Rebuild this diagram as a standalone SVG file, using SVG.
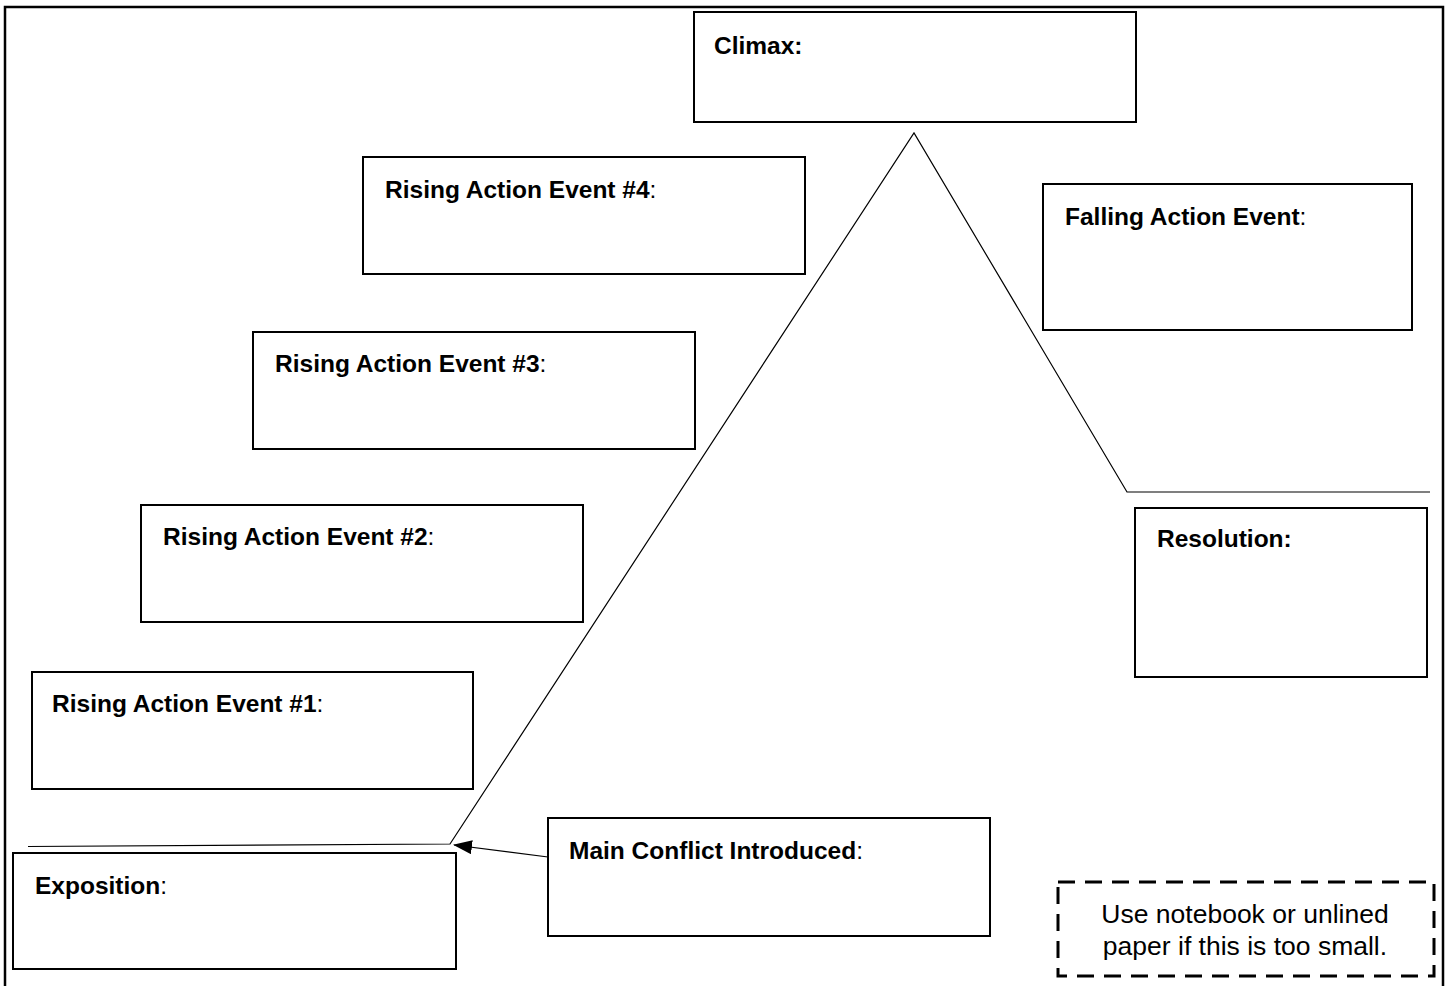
<svg xmlns="http://www.w3.org/2000/svg" width="1450" height="986" viewBox="0 0 1450 986">
<style>
.box{fill:#fff;stroke:#000;stroke-width:2}
.lbl{font-family:"Liberation Sans",Arial,sans-serif;font-size:24.5px;fill:#000}
.lbl .b{font-weight:bold}
.note{font-family:"Liberation Sans",Arial,sans-serif;font-size:26.5px;fill:#000;text-anchor:middle}
.ln{stroke:#000;stroke-width:1.2;fill:none}
</style>
<defs>
<marker id="ah" markerWidth="19" markerHeight="14" refX="18" refY="7" orient="auto" markerUnits="userSpaceOnUse">
<path d="M0,0 L19,7 L0,14 Z" fill="#000"/>
</marker>
</defs>
<rect width="1450" height="986" fill="#fff"/>
<path d="M5,990 V7 H1443 V990" fill="none" stroke="#000" stroke-width="2.5"/>
<g id="climax"><rect class="box" x="694" y="12" width="442" height="110"/><text class="lbl" x="714" y="54"><tspan class="b">Climax:</tspan></text></g>
<g id="rising4"><rect class="box" x="363" y="157" width="442" height="117"/><text class="lbl" x="385" y="198"><tspan class="b">Rising Action Event #4</tspan>:</text></g>
<g id="rising3"><rect class="box" x="253" y="332" width="442" height="117"/><text class="lbl" x="275" y="372"><tspan class="b">Rising Action Event #3</tspan>:</text></g>
<g id="rising2"><rect class="box" x="141" y="505" width="442" height="117"/><text class="lbl" x="163" y="545"><tspan class="b">Rising Action Event #2</tspan>:</text></g>
<g id="rising1"><rect class="box" x="32" y="672" width="441" height="117"/><text class="lbl" x="52" y="712"><tspan class="b">Rising Action Event #1</tspan>:</text></g>
<g id="exposition"><rect class="box" x="13" y="853" width="443" height="116"/><text class="lbl" x="35" y="894"><tspan class="b">Exposition</tspan>:</text></g>
<g id="conflict"><rect class="box" x="548" y="818" width="442" height="118"/><text class="lbl" x="569" y="859"><tspan class="b">Main Conflict Introduced</tspan>:</text></g>
<g id="falling"><rect class="box" x="1043" y="184" width="369" height="146"/><text class="lbl" x="1065" y="225"><tspan class="b">Falling Action Event</tspan>:</text></g>
<g id="resolution"><rect class="box" x="1135" y="508" width="292" height="169"/><text class="lbl" x="1157" y="547"><tspan class="b">Resolution:</tspan></text></g>
<g id="note"><rect x="1058" y="882" width="376" height="94" fill="none" stroke="#000" stroke-width="3" stroke-dasharray="17,10"/><text class="note" x="1245" y="923">Use notebook or unlined</text><text class="note" x="1245" y="955">paper if this is too small.</text></g>
<g id="connectors">
<path class="ln" d="M28,846.5 L450,844 L914,133 L1127,492 H1430"/>
<line class="ln" x1="548" y1="857" x2="454" y2="845" marker-end="url(#ah)"/>
</g>
</svg>
